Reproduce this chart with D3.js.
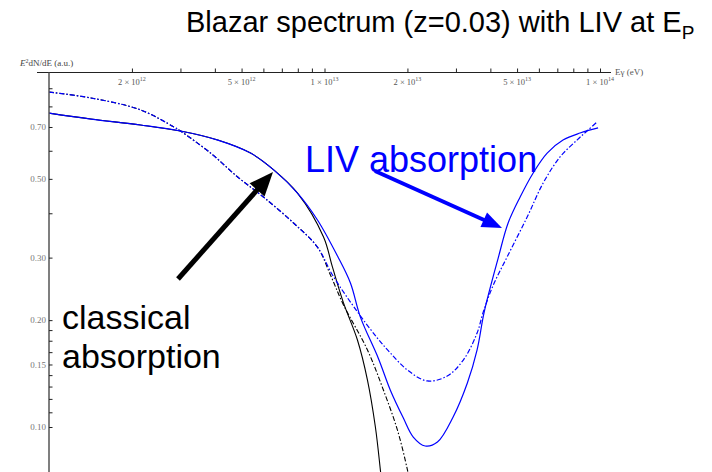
<!DOCTYPE html>
<html><head><meta charset="utf-8">
<script src="https://cdn.jsdelivr.net/npm/d3@7"></script>
<style>body{margin:0;background:#fff}svg{display:block}</style>
</head><body>
<svg id="c" width="712" height="472"></svg>
<script>
// ---- data ----
const xTickValues = [2e12,3e12,4e12,5e12,6e12,7e12,8e12,9e12,1e13,2e13,3e13,4e13,5e13,6e13,7e13,8e13,9e13,1e14];
const xLabelValues = [2e12,5e12,1e13,2e13,5e13,1e14];
const xLabelMantissa = ["2","5","1","2","5","1"];
const xLabelExponent = ["12","12","13","13","13","14"];
const yTickValues = [0.9,0.8,0.7,0.6,0.5,0.4,0.3,0.2,0.1875,0.175,0.1625,0.15,0.14,0.13,0.12,0.11,0.1];
const yLabelValues = [0.7,0.5,0.3,0.2,0.15,0.1];
const yLabels = ["0.70","0.50","0.30","0.20","0.15","0.10"];

// LIV absorption, solid
const livSolidE = [1.0e12,1.42e12,2.15e12,3.0e12,4.1e12,5.39e12,6.54e12,7.98e12,9.43e12,1.115e13,1.242e13,1.35e13,1.569e13,1.734e13,1.933e13,2.10e13,2.32e13,2.57e13,2.93e13,3.30e13,3.58e13,3.80e13,4.27e13,4.64e13,5.13e13,5.72e13,6.43e13,7.34e13,8.46e13,9.84e13];
const livSolidV = [0.766,0.737,0.709,0.682,0.643,0.591,0.530,0.456,0.383,0.303,0.2545,0.204,0.156,0.127,0.106,0.0937,0.0884,0.0907,0.1067,0.133,0.165,0.211,0.299,0.3755,0.4445,0.5195,0.591,0.643,0.673,0.696];
// LIV absorption, dash-dot
const livDashE = [1.0e12,1.42e12,2.15e12,2.84e12,3.0e12,3.86e12,4.84e12,6.0e12,7.72e12,9.43e12,1.069e13,1.317e13,1.556e13,1.734e13,2.0e13,2.36e13,2.79e13,3.19e13,3.58e13,3.77e13,4.10e13,4.60e13,5.44e13,6.22e13,7.16e13,8.25e13,8.97e13,9.75e13];
const livDashV = [0.878,0.845,0.782,0.700,0.682,0.591,0.506,0.4445,0.3755,0.321,0.268,0.211,0.178,0.1616,0.1447,0.1348,0.1392,0.1544,0.184,0.211,0.2512,0.3012,0.3904,0.4868,0.5762,0.643,0.682,0.723];
// classical absorption, solid
const clsSolidE = [1.0e12,1.42e12,2.15e12,3.0e12,4.1e12,5.39e12,6.54e12,7.98e12,9.92e12,1.069e13,1.172e13,1.317e13,1.432e13,1.53e13,1.595e13,1.636e13];
const clsSolidV = [0.766,0.737,0.709,0.682,0.643,0.591,0.530,0.456,0.343,0.282,0.2236,0.1758,0.1356,0.100,0.0757,0.0623];
// classical absorption, dash-dot
const clsDashE = [1.0e12,1.42e12,2.15e12,2.84e12,3.0e12,3.86e12,4.84e12,6.0e12,7.72e12,9.43e12,1.051e13,1.172e13,1.432e13,1.636e13,1.839e13,2.0e13,2.066e13];
const clsDashV = [0.878,0.845,0.782,0.700,0.682,0.591,0.506,0.4445,0.3755,0.321,0.268,0.2207,0.1648,0.1271,0.0981,0.0757,0.0665];

// ---- drawing ----
const svg = d3.select("#c");
const W = 712, H = 472;
const x = d3.scaleLog().domain([1e12, 1e14]).range([49, 600]);
const y = d3.scaleLog().domain([0.1, 1]).range([427, 72]);
const axisY = 72.5, axisX = 49;

svg.append("defs").append("clipPath").attr("id","plot")
  .append("rect").attr("x", axisX).attr("y", axisY).attr("width", 612-axisX).attr("height", H-axisY);

const line = (E, V) => d3.line().x((d,i)=>x(E[i])).y((d,i)=>y(V[i])).curve(d3.curveCatmullRom.alpha(0.5))(E);

const g = svg.append("g").attr("clip-path","url(#plot)");
const series = [
  {E: clsSolidE, V: clsSolidV, c:"#000", dash:null, w:1.1},
  {E: clsDashE, V: clsDashV, c:"#000", dash:"5,2,1.5,2", w:1.1},
  {E: livSolidE, V: livSolidV, c:"#0000ff", dash:null, w:1.2},
  {E: livDashE, V: livDashV, c:"#0000ff", dash:"5,2,1.5,2", w:1.2}
];
series.forEach(s => {
  g.append("path").attr("d", line(s.E, s.V)).attr("fill","none")
    .attr("stroke", s.c).attr("stroke-width", s.w)
    .attr("stroke-dasharray", s.dash);
});

// top axis
svg.append("line").attr("x1",37).attr("x2",611).attr("y1",axisY).attr("y2",axisY)
  .attr("stroke","#222").attr("stroke-width",1);
const xa = svg.append("g").attr("transform",`translate(0,${axisY})`)
  .call(d3.axisTop(x).tickValues(xTickValues).tickSize(4).tickFormat(""));
xa.select(".domain").remove();
xa.selectAll(".tick line").attr("stroke","#222");

const xl = svg.append("g").attr("font-family","Liberation Serif, serif").attr("fill","#555");
xLabelValues.forEach((v,i) => {
  const t = xl.append("text").attr("x", x(v)).attr("y", 85).attr("text-anchor","middle").attr("font-size",8.5);
  t.append("tspan").text(xLabelMantissa[i] + " \u00d7 10");
  t.append("tspan").attr("dy",-4).attr("font-size",6).text(xLabelExponent[i]);
});

// y axis
svg.append("line").attr("x1",axisX).attr("x2",axisX).attr("y1",axisY).attr("y2",H)
  .attr("stroke","#555").attr("stroke-width",1.5);
const ya = svg.append("g").attr("transform",`translate(${axisX},0)`)
  .call(d3.axisRight(y).tickValues(yTickValues).tickSize(3.5).tickFormat(""));
ya.select(".domain").remove();
ya.selectAll(".tick line").attr("stroke","#222");

const yl = svg.append("g").attr("font-family","Liberation Serif, serif").attr("fill","#777").attr("font-size",9);
yLabelValues.forEach((v,i) => {
  yl.append("text").attr("x", 46).attr("y", y(v)).attr("dy","0.35em").attr("text-anchor","end").text(yLabels[i]);
});

// axis titles
const yt = svg.append("text").attr("x",20).attr("y",66).attr("font-family","Liberation Serif, serif")
  .attr("font-size",9).attr("fill","#444");
yt.append("tspan").attr("font-style","italic").text("E");
yt.append("tspan").attr("dy",-3).attr("font-size",6).text("2");
yt.append("tspan").attr("dy",3).text("dN/dE (a.u.)");
svg.append("text").attr("x",615).attr("y",75).attr("font-family","Liberation Serif, serif")
  .attr("font-size",9).attr("fill","#555").text("E\u03b3 (eV)");

// title
const title = svg.append("text").attr("x",186).attr("y",32).attr("font-family","Liberation Sans, Arial, sans-serif")
  .attr("font-size",29).attr("fill","#000");
title.append("tspan").text("Blazar spectrum (z=0.03) with LIV at E");
title.append("tspan").attr("dy",7).attr("font-size",19).text("P");

// annotations
function arrow(x1,y1,x2,y2,color,w,hl,hw){
  const dx=x2-x1, dy=y2-y1, L=Math.hypot(dx,dy), ux=dx/L, uy=dy/L, px=-uy, py=ux;
  const bx=x2-ux*hl, by=y2-uy*hl;
  svg.append("line").attr("x1",x1).attr("y1",y1).attr("x2",bx+ux*1).attr("y2",by+uy*1)
    .attr("stroke",color).attr("stroke-width",w);
  svg.append("polygon").attr("points",
    `${x2},${y2} ${bx+px*hw/2},${by+py*hw/2} ${bx-px*hw/2},${by-py*hw/2}`).attr("fill",color);
}
arrow(178,279,273,172,"#000",5,24,20);

svg.append("text").attr("x",305).attr("y",172).attr("font-family","Liberation Sans, Arial, sans-serif")
  .attr("font-size",36).attr("fill","#0000ff").text("LIV absorption");
arrow(375,171,502,228,"#0000ff",4,20,16);

const ct = svg.append("g").attr("font-family","Liberation Sans, Arial, sans-serif").attr("font-size",34).attr("fill","#000");
ct.append("text").attr("x",62).attr("y",329).text("classical");
ct.append("text").attr("x",62).attr("y",368).text("absorption");
</script>
</body></html>
